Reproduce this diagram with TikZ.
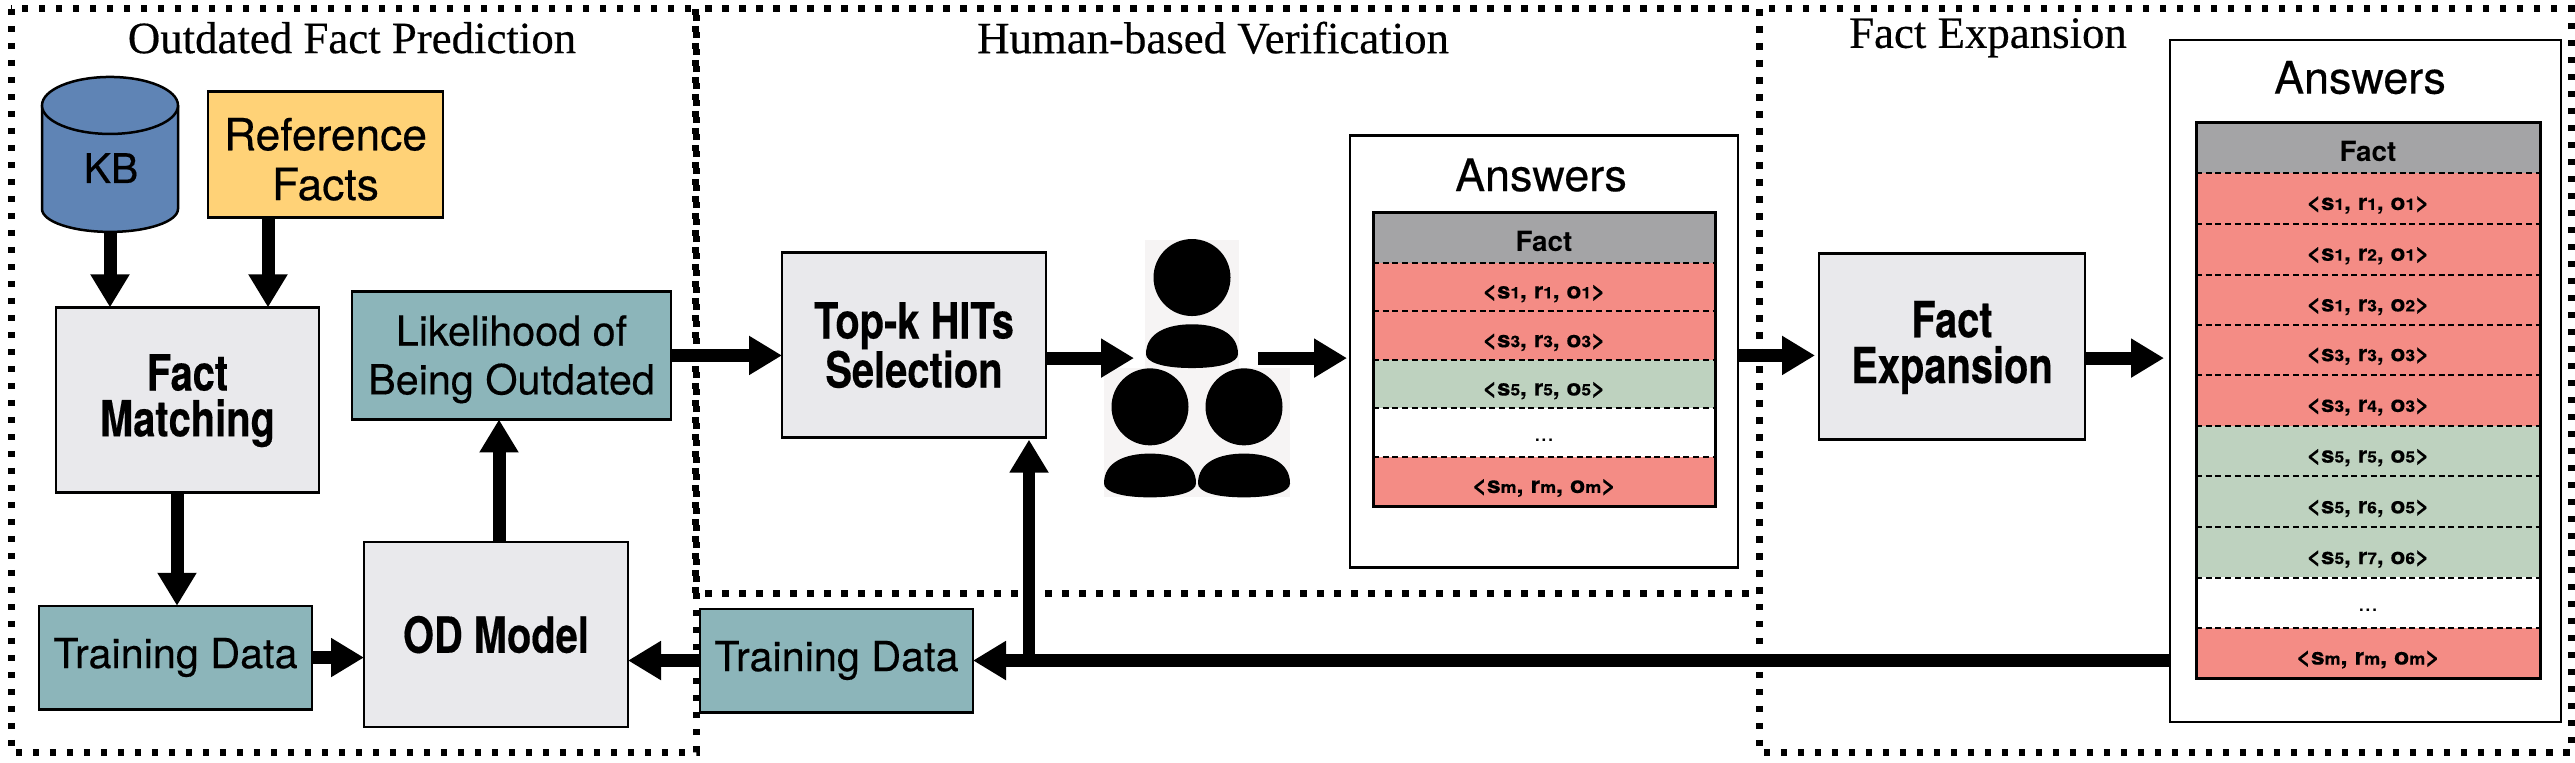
\documentclass[tikz,border=0pt]{standalone}
\usepackage{fontspec}
\setmainfont{TeX Gyre Heros}
\newfontfamily\hcond{TeX Gyre Heros}[FakeStretch=0.80,FakeBold=0.3]
\newfontfamily\hmed{TeX Gyre Heros}[FakeBold=0.35]
\newfontfamily\rowf{TeX Gyre Heros}[FakeStretch=1.09,FakeBold=0.3]
\newfontfamily\titlefont{Liberation Serif}[FakeBold=0.4]
\usetikzlibrary{arrows.meta,calc}
\definecolor{gbox}{HTML}{E9E9EC}
\definecolor{tealb}{HTML}{8CB5BA}
\definecolor{yellowb}{HTML}{FFD277}
\definecolor{blueb}{HTML}{5F84B5}
\definecolor{headg}{HTML}{A4A4A6}
\definecolor{redr}{HTML}{F48C85}
\definecolor{greenr}{HTML}{BED2BF}
\definecolor{peoplebg}{HTML}{F6F4F4}
\tikzset{
  box/.style={draw=black,line width=2.5bp,inner sep=0pt,outer sep=0pt,align=center,anchor=north west},
  graybox/.style={box,fill=gbox,font=\hcond\bfseries\fontsize{50}{46}\selectfont},
  tealbox/.style={box,fill=tealb,font=\hmed\fontsize{41.5}{49}\selectfont},
  yellowbox/.style={box,fill=yellowb,font=\hmed\fontsize{44.5}{50}\selectfont},
  answerbox/.style={box,fill=white,text depth=0pt},
  frame/.style={line width=7bp,dash pattern=on 6.5bp off 10.5bp},
  title/.style={font=\titlefont\fontsize{45}{50}\selectfont,inner sep=0pt},
  flow/.style={line width=13bp,-{Triangle[width=37bp,length=33bp]}},
  rowcell/.style={inner sep=0pt,outer sep=0pt,anchor=north west},
  rowsep/.style={line width=2bp,dash pattern=on 6bp off 3.7bp},
  ansname/.style={inner sep=0pt,font=\hmed\fontsize{45}{50}\selectfont},
}
\newcommand{\rw}[6]{\raisebox{-11.5bp}[0pt][0pt]{\rowf\bfseries\fontsize{22.5}{28}\selectfont
  <#1{\fontsize{16}{20}\selectfont #2}, #3{\fontsize{16}{20}\selectfont #4}, #5{\fontsize{16}{20}\selectfont #6}>}}
\newcommand{\rwm}{\raisebox{-11.5bp}[0pt][0pt]{\rowf\bfseries\fontsize{23}{28}\selectfont
  <s{\fontsize{16.5}{20}\selectfont m}, r{\fontsize{16.5}{20}\selectfont m}, o{\fontsize{16.5}{20}\selectfont m}>}}
\newcommand{\rowhead}{\raisebox{-14bp}[0pt][0pt]{\bfseries\fontsize{28}{30}\selectfont Fact}}
\newcommand{\rowdots}{\raisebox{-9bp}[0pt][0pt]{\fontsize{24}{28}\selectfont ...}}
\newcommand{\dn}[1]{\rule{0pt}{#1bp}}
\newcommand{\person}[1]{%
  \begin{scope}[shift={#1}]
    \fill[black] (0,-91) ellipse [x radius=38.5bp,y radius=38.5bp];
    \fill[black] (-46,-14) .. controls (-46,-36) and (-24,-44) .. (0,-44)
      .. controls (24,-44) and (46,-36) .. (46,-14)
      .. controls (46,-6) and (30,0) .. (0,0)
      .. controls (-30,0) and (-46,-6) .. (-46,-14) -- cycle;
  \end{scope}}
\begin{document}
\begin{tikzpicture}[x=1bp,y=-0.9947bp]
\useasboundingbox (0,0) rectangle (2575,766.06);
\fill[white] (0,0) rectangle (2575,766.06);
% frames
\draw[frame] (11,9) rectangle (696,756);
\draw[frame] (695,9) rectangle (1759,597);
\draw[frame] (1759,9) rectangle (2571,756);
\node[title] (t1) at (352,38) {Outdated Fact Prediction};
\node[title] (t2) at (1213,38) {Human-based Verification};
\node[title] (t3) at (1988,38) {Fact Expansion};
% KB cylinder
\draw[line width=2.5bp,fill=blueb] (42,106) -- (42,210) arc [start angle=180,end angle=360,x radius=68bp,y radius=23bp] -- (178,106);
\draw[line width=2.5bp,fill=blueb] (110,106) ellipse [x radius=68bp,y radius=28.5bp];
\node[inner sep=0pt,outer sep=0pt,minimum width=136bp,minimum height=155bp,anchor=north west] (kb) at (42,77) {};
\node[inner sep=0pt,font=\hmed\fontsize{41}{48}\selectfont] (kbt) at (111,169) {KB};
% boxes
\node[yellowbox,minimum width=235bp,minimum height=126bp] (ref) at (208,92) {\dn{42}Reference\\Facts};
\node[graybox,minimum width=263bp,minimum height=185bp] (fm) at (56,309) {\dn{38}Fact\\Matching};
\node[tealbox,minimum width=319bp,minimum height=128bp] (lik) at (352,293) {\dn{38}Likelihood of\\Being Outdated};
\node[tealbox,minimum width=273bp,minimum height=103.5bp] (tda) at (39,609) {Training Data};
\node[graybox,minimum width=264bp,minimum height=185bp] (od) at (364,545) {OD Model};
\node[graybox,minimum width=264bp,minimum height=185bp] (topk) at (782,254) {Top-k HITs\\Selection};
\node[tealbox,minimum width=273bp,minimum height=103.5bp] (tdb) at (700,612) {Training Data};
\node[graybox,minimum width=266bp,minimum height=186bp] (fe) at (1819,255) {\dn{38}Fact\\Expansion};
% people
\fill[peoplebg] (1145,241) rectangle (1239,370);
\fill[peoplebg] (1104,370) rectangle (1290,500);
\person{(1192,370)}
\person{(1150,500)}
\person{(1244,500)}
\coordinate (pin) at (1134,360);
\coordinate (pout) at (1258,360);
% answers 1
\node[answerbox,minimum width=388bp,minimum height=432bp] (ansa) at (1350,136) {};
\node[ansname] (ansat) at (1541,176) {Answers};
\foreach \nm/\yy/\hh/\cc/\tx in {
  aa/214/49.7/headg/{\rowhead},
  ab/264/48.7/redr/{\rw{s}{1}{r}{1}{o}{1}},
  ac/313/48.7/redr/{\rw{s}{3}{r}{3}{o}{3}},
  ad/362/47.8/greenr/{\rw{s}{5}{r}{5}{o}{5}},
  ae/410/48.7/white/{\rowdots},
  af/459/49.7/redr/{\rwm}}{
  \node[rowcell,fill=\cc,minimum width=342bp,minimum height=\hh bp] (\nm) at (1373,\yy) {\tx};
}
\foreach \a in {aa,ab,ac,ad,ae}{\draw[rowsep] (\a.south west) -- (\a.south east);}
\draw[line width=3bp] (aa.north west) rectangle (af.south east);
% answers 2
\node[answerbox,minimum width=391bp,minimum height=682bp] (ansb) at (2170,40) {};
\node[ansname] (ansbt) at (2360,78) {Answers};
\foreach \nm/\yy/\cc/\tx in {
  ba/123/headg/{\rowhead},
  bb/174/redr/{\rw{s}{1}{r}{1}{o}{1}},
  bc/225/redr/{\rw{s}{1}{r}{2}{o}{1}},
  bd/276/redr/{\rw{s}{1}{r}{3}{o}{2}},
  be/326/redr/{\rw{s}{3}{r}{3}{o}{3}},
  bf/377/redr/{\rw{s}{3}{r}{4}{o}{3}},
  bg/428/greenr/{\rw{s}{5}{r}{5}{o}{5}},
  bh/479/greenr/{\rw{s}{5}{r}{6}{o}{5}},
  bi/530/greenr/{\rw{s}{5}{r}{7}{o}{6}},
  bj/580/white/{\rowdots},
  bk/631/redr/{\rwm}}{
  \node[rowcell,fill=\cc,minimum width=344bp,minimum height=50.7bp] (\nm) at (2196,\yy) {\tx};
}
\foreach \a in {ba,bb,bc,bd,be,bf,bg,bh,bi,bj}{\draw[rowsep] (\a.south west) -- (\a.south east);}
\draw[line width=3bp] (ba.north west) rectangle (bk.south east);
% connectors
\coordinate (refout) at (268,219);
\coordinate (odout) at (499,545);
\coordinate (fmout) at (177,495);
\coordinate (junc) at (1029,664);
\draw[flow] (kb.south) -- (kb.south |- fm.north);
\draw[flow] (refout) -- (refout |- fm.north);
\draw[flow] (fmout) -- (fmout |- tda.north);
\draw[flow] (odout) -- (odout |- lik.south);
\draw[flow] (tda.east) -- (tda.east -| od.west);
\draw[flow] (tdb.west) -- (tdb.west -| od.east);
\draw[flow] (lik.east) -- (lik.east -| topk.west);
\draw[flow] (pin -| topk.east) -- (pin);
\draw[flow] (pout) -- ($(pout -| ansa.west)+(-3,0)$);
\draw[flow] (lik.east -| ansa.east) -- ($(lik.east -| fe.west)+(-4,0)$);
\draw[flow] (pin -| fe.east) -- ($(pin -| ansb.west)+(-6,0)$);
\draw[flow] (tdb.east -| ansb.west) -- (tdb.east);
\draw[line width=12bp,-{Triangle[width=37bp,length=33bp]}] (junc) -- ($(junc |- topk.south)+(0,2)$);
\end{tikzpicture}
\end{document}
